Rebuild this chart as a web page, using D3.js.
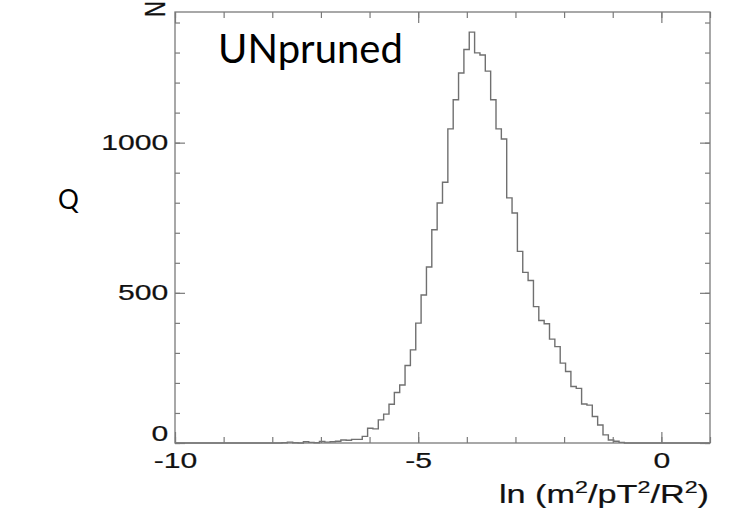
<!DOCTYPE html>
<html><head><meta charset="utf-8">
<script src="https://cdn.jsdelivr.net/npm/d3@7"></script>
<style>body{margin:0;background:#fff}svg{display:block}</style></head>
<body><svg id="c" width="729" height="508"></svg>
<script>
// ---- data ----
const binLow = -10, binHigh = 1, nBins = 100;
const counts = [
  0,0,0,0,0,0,0,0,0,0,
  0,0,0,0,0,0,0,0,0,0,
  1,3,1,0,4,2,1,5,3,4,
  6,10,9,12,12,22,49,47,77,96,
  129,168,193,258,310,399,493,586,710,799,
  868,1046,1143,1232,1310,1368,1299,1292,1238,1143,
  1046,1012,816,766,638,568,541,454,408,397,
  346,321,266,238,188,182,130,126,88,60,
  27,10,6,2,0,0,0,0,0,0,
  0,0,0,0,0,0,0,0,0,0
];
const xMajorTicks = [-10, -5, 0];
const xMinorTicks = [-10,-9,-8,-7,-6,-5,-4,-3,-2,-1,0,1];
const yMajorTicks = [0, 500, 1000];
const yMinorTicks = [0,100,200,300,400,500,600,700,800,900,1000,1100,1200,1300,1400];
const xDomain = [-10, 1], yDomain = [0, 1435];
const annotation = "UNpruned", sideLetter = "Q", yTitle = "N";

// ---- layout ----
const L = 175, R = 710, T = 12, B = 443;
const SX = 1.37; // horizontal stretch of the ROOT picture text
const frameCol = "#7a7a7a", lineCol = "#707070";
const svg = d3.select("#c");
const x = d3.scaleLinear().domain(xDomain).range([L, R]);
const y = d3.scaleLinear().domain(yDomain).range([B, T]);

// histogram
const bw = (binHigh - binLow) / nBins;
const pts = counts.map((c, i) => [binLow + i * bw, c]);
pts.push([binHigh, counts[counts.length - 1]]);
svg.append("path").datum(pts)
  .attr("d", d3.line().x(d => x(d[0])).y(d => y(d[1])).curve(d3.curveStepAfter))
  .attr("fill", "none").attr("stroke", lineCol).attr("stroke-width", 1.4);

// axes (ticks inward on all four sides)
function styleAxis(g) {
  g.select(".domain").remove();
  g.selectAll(".tick line").attr("stroke", frameCol).attr("stroke-width", 1.2);
}
const fmt = d => String(d);
svg.append("g").attr("transform", `translate(0,${B})`)
  .call(d3.axisBottom(x).tickValues(xMinorTicks).tickSize(-6).tickFormat("")).call(styleAxis);
const xb = svg.append("g").attr("transform", `translate(0,${B})`)
  .call(d3.axisBottom(x).tickValues(xMajorTicks).tickSize(-11).tickPadding(9).tickFormat(fmt)).call(styleAxis);
svg.append("g").attr("transform", `translate(0,${T})`)
  .call(d3.axisTop(x).tickValues(xMinorTicks).tickSize(-6).tickFormat("")).call(styleAxis);
svg.append("g").attr("transform", `translate(0,${T})`)
  .call(d3.axisTop(x).tickValues(xMajorTicks).tickSize(-11).tickFormat("")).call(styleAxis);
svg.append("g").attr("transform", `translate(${L},0)`)
  .call(d3.axisLeft(y).tickValues(yMinorTicks).tickSize(-5).tickFormat("")).call(styleAxis);
const yl = svg.append("g").attr("transform", `translate(${L},0)`)
  .call(d3.axisLeft(y).tickValues(yMajorTicks).tickSize(-10).tickPadding(5).tickFormat(fmt)).call(styleAxis);
svg.append("g").attr("transform", `translate(${R},0)`)
  .call(d3.axisRight(y).tickValues(yMinorTicks).tickSize(-5).tickFormat("")).call(styleAxis);
svg.append("g").attr("transform", `translate(${R},0)`)
  .call(d3.axisRight(y).tickValues(yMajorTicks).tickSize(-10).tickFormat("")).call(styleAxis);

[xb, yl].forEach(g => g.selectAll(".tick text")
  .attr("font-family", "Liberation Sans, Arial, sans-serif").attr("font-size", 22)
  .attr("fill", "#111").attr("stroke", "#111").attr("stroke-width", 0.2)
  .attr("transform", `scale(${SX},1)`));
yl.selectAll(".tick text").filter(d => d === 0).attr("dy", "-0.1em");

// frame
svg.append("rect").attr("x", L).attr("y", T).attr("width", R - L).attr("height", B - T)
  .attr("fill", "none").attr("stroke", frameCol).attr("stroke-width", 1.3);

// x title
const xt = svg.append("text").attr("text-anchor", "end")
  .attr("transform", `translate(709,503) scale(${SX},1)`)
  .attr("font-family", "Liberation Sans, Arial, sans-serif").attr("font-size", 25)
  .attr("fill", "#111").attr("stroke", "#111").attr("stroke-width", 0.2);
xt.append("tspan").text("ln (m");
xt.append("tspan").attr("dy", -10).attr("font-size", 17).text("2");
xt.append("tspan").attr("dy", 10).text("/pT");
xt.append("tspan").attr("dy", -10).attr("font-size", 17).text("2");
xt.append("tspan").attr("dy", 10).text("/R");
xt.append("tspan").attr("dy", -10).attr("font-size", 17).text("2");
xt.append("tspan").attr("dy", 10).text(")");

// y title (rotated N)
svg.append("text").attr("text-anchor", "end")
  .attr("transform", `translate(165,1) scale(${SX},1) rotate(-90)`)
  .attr("font-family", "Liberation Sans, Arial, sans-serif").attr("font-size", 22)
  .attr("fill", "#111").attr("stroke", "#111").attr("stroke-width", 0.2)
  .text(yTitle);

// overlay texts
svg.append("text").attr("x", 218).attr("y", 63)
  .attr("font-family", "Lato, 'Open Sans', sans-serif").attr("font-size", 40).attr("fill", "#000")
  .text(annotation);
svg.append("text").attr("x", 58).attr("y", 209)
  .attr("font-family", "Lato, 'Open Sans', sans-serif").attr("font-size", 26).attr("fill", "#000")
  .text(sideLetter);
</script></body></html>
